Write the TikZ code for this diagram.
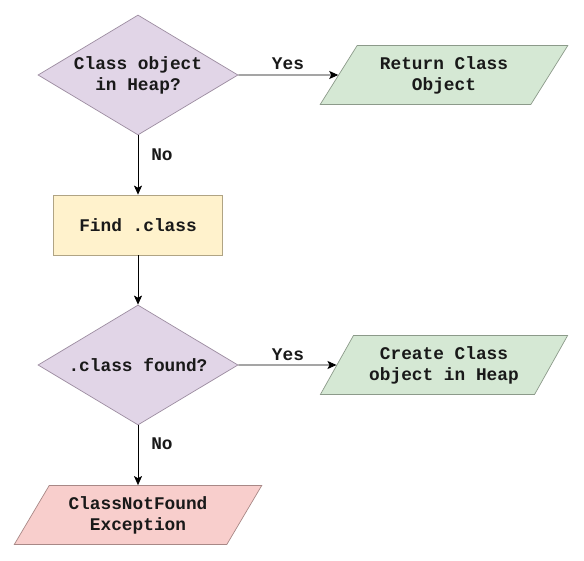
\documentclass[tikz,border=0pt]{standalone}
\usepackage{fontspec}
\setmonofont{Liberation Mono}
\usetikzlibrary{shapes.geometric,arrows.meta}
\definecolor{purpF}{HTML}{E1D5E7}
\definecolor{purpD}{HTML}{9C8CA0}
\definecolor{greenF}{HTML}{D5E8D4}
\definecolor{greenD}{HTML}{8C9A8A}
\definecolor{yellF}{HTML}{FFF2CC}
\definecolor{yellD}{HTML}{B0A484}
\definecolor{redF}{HTML}{F8CECC}
\definecolor{redD}{HTML}{A88886}
\tikzset{
  basefont/.style={font=\ttfamily\bfseries\fontsize{17.8}{21}\selectfont, text=black!90},
  decision/.style={diamond, aspect=1.667, draw=purpD, fill=purpF, line width=0.7pt, inner sep=0pt,
    minimum width=200, minimum height=120, align=center, basefont},
  procbox/.style={rectangle, draw=yellD, fill=yellF, line width=0.7pt,
    minimum width=169, minimum height=60, align=center, basefont},
  iobox/.style={trapezium, trapezium left angle=54, trapezium right angle=126,
    trapezium stretches=true, line width=0.7pt, inner sep=0pt,
    minimum width=248, minimum height=59, align=center, basefont},
  okbox/.style={iobox, draw=greenD, fill=greenF},
  errbox/.style={iobox, draw=redD, fill=redF},
  conn/.style={line width=0.9pt, -{Stealth[length=9pt,width=8pt,inset=2pt]}},
  lbl/.style={basefont}
}
\begin{document}
\begin{tikzpicture}[x=1pt,y=-1pt]
\useasboundingbox (0,0) rectangle (584,561);
\node[decision] (d1) at (138,75) {Class object\\in Heap?};
\node[okbox] (p1) at (444,75) {Return Class\\Object};
\node[procbox] (f1) at (138,225) {Find .class};
\node[decision] (d2) at (138,365) {.class found?};
\node[okbox] (p2) at (444,365) {Create Class\\object in Heap};
\node[errbox] (p3) at (138,515) {ClassNotFound\\Exception};
\draw[conn] (d1) -- (p1);
\draw[conn] (d1) -- (f1);
\draw[conn] (f1) -- (d2);
\draw[conn] (d2) -- (p2);
\draw[conn] (d2) -- (p3);
\node[lbl] (y1) at (288,64) {Yes};
\node[lbl] (n1) at (162,155) {No};
\node[lbl] (y2) at (288,355) {Yes};
\node[lbl] (n2) at (162,444) {No};
\end{tikzpicture}
\end{document}
